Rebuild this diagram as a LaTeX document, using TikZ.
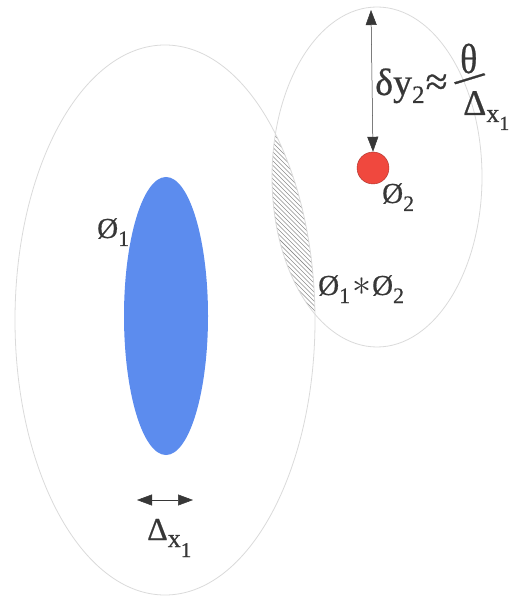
\RequirePackage{fix-cm}
\documentclass[tikz,border=0pt]{standalone}
\usepackage{fontspec}
\setmainfont{Liberation Serif}[FakeBold=0.6]
\usepackage{graphicx}
\usetikzlibrary{shapes.geometric,arrows.meta}
\definecolor{blobblue}{RGB}{92,140,238}
\definecolor{dotred}{RGB}{240,72,62}
\definecolor{ink}{RGB}{55,55,55}
\definecolor{rim}{RGB}{218,218,218}
\definecolor{hatch}{RGB}{140,140,140}
\newcommand{\fs}[1]{\fontsize{#1}{#1}\selectfont}
\newcommand{\lsub}[1]{\raisebox{-8pt}{\fs{22}#1}}
\tikzset{
  rimline/.style={draw=rim, line width=0.8pt},
  lbl/.style={text=ink, inner sep=0pt, font=\fs{29}},
  dimarrow/.style={draw=ink, line width=0.5pt, {Triangle[length=15pt,width=11pt]}-{Triangle[length=15pt,width=11pt]}},
  hatchline/.style={draw=hatch, line width=0.45pt}
}
\begin{document}
\begin{tikzpicture}[x=1pt,y=-1pt]
\useasboundingbox (0,0) rectangle (508,601);
% hatched overlap
\begin{scope}
  \clip (165,320) ellipse [x radius=150pt, y radius=275pt];
  \clip (377,177) ellipse [x radius=105pt, y radius=170pt];
  \foreach \i in {0,4.5,...,300} {
    \draw[hatchline] (100+\i,60) -- (360+\i,320);
    \draw[hatchline] (100-\i,60) -- (360-\i,320);
  }
\end{scope}
\node[ellipse, rimline, minimum width=300pt, minimum height=550pt, inner sep=0pt] (big) at (165,320) {};
\node[ellipse, rimline, minimum width=210pt, minimum height=340pt, inner sep=0pt] (small) at (377,177) {};
\node[ellipse, fill=blobblue, minimum width=84pt, minimum height=278pt, inner sep=0pt] (phi1) at (166,316) {};
\node[circle, fill=dotred, draw=dotred!70!black, line width=0.4pt, minimum size=32pt, inner sep=0pt] (phi2) at (373,168) {};
% vertical arrow
\coordinate (topend) at (371,10);
\draw[dimarrow] (topend) -- (phi2.north);
% horizontal arrow
\coordinate (dl) at (137,500);
\coordinate (dr) at (193,500);
\draw[dimarrow] (dl) -- (dr);
% labels
\node[lbl, anchor=base west] (lphi1) at (97,238) {Ø\lsub{1}};
\node[lbl, anchor=base west] (lphi2) at (382,203) {Ø\lsub{2}};
\node[lbl, anchor=base west] (lprod) at (318,295) {Ø\lsub{1}\kern2pt{\fs{38}$\ast$}\kern1pt Ø\lsub{2}};
\node[lbl, anchor=base west] (ldx) at (147,540) {{\fs{32}Δ}\raisebox{-7pt}{\fs{26}x}\raisebox{-17pt}{\fs{21}1}};
\node[lbl, anchor=base west] (ldy) at (375,95) {\rlap{{\fs{38}δy}\raisebox{-8pt}{\fs{25}2}\kern1pt{\fs{40}≈}}\rlap{\kern85pt\raisebox{22pt}{\scalebox{0.85}[1]{\fs{42}θ}}}\rlap{\kern79pt\raisebox{2pt}{\rotatebox[origin=c]{-54}{\fs{44}/}}}\kern88pt\raisebox{-20pt}{{\fs{36}Δ}\raisebox{-7pt}{\fs{26}x}\raisebox{-15pt}{\fs{20}1}}};
\end{tikzpicture}
\end{document}
